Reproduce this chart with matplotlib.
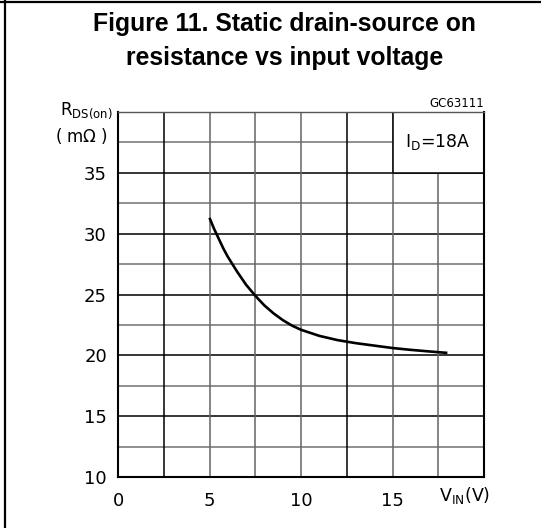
import matplotlib.pyplot as plt
from matplotlib import font_manager
from matplotlib.lines import Line2D
from matplotlib.patches import Rectangle

# DATA ------------------------------------------------------------------------

# curve, I_D = 18 A
v_in = [5.0, 5.25, 5.5, 5.75, 6.0, 6.5, 7.0, 7.5, 8.0, 8.5, 9.0, 9.5, 10.0,
        11.0, 12.0, 13.0, 14.0, 15.0, 16.0, 17.0, 18.0]
r_ds_on = [31.3, 30.4, 29.6, 28.8, 28.1, 26.9, 25.8, 24.9, 24.1, 23.45, 22.9, 22.45, 22.1,
           21.6, 21.25, 21.0, 20.8, 20.6, 20.45, 20.32, 20.2]

x_ticks = [0, 5, 10, 15]
y_ticks = [10, 15, 20, 25, 30, 35]
x_grid = [2.5, 5, 7.5, 10, 12.5, 15, 17.5]
y_grid = [12.5, 15, 17.5, 20, 22.5, 25, 27.5, 30, 32.5, 35, 37.5]

W, H = 541, 528

# helper: pixel position -> figure fraction
def px( x, y ):
    return x / W, 1.0 - y / H

# pick the regular-width Liberation Sans Bold file (not the Narrow one)
title_fp = None
for f in font_manager.fontManager.ttflist:
    if f.name == "Liberation Sans" and f.weight in ( 700, "bold" ) and f.style == "normal" \
            and "Narrow" not in f.fname:
        title_fp = font_manager.FontProperties( fname=f.fname, size=17.8 )
        break
if title_fp is None:
    title_fp = font_manager.FontProperties( family="DejaVu Sans", weight="bold", size=16 )

# FIGURE ----------------------------------------------------------------------

fig = plt.figure( figsize=( W / 100, H / 100 ), dpi=100 )
ax = fig.add_axes( [118 / W, 51 / H, 366 / W, 365 / H] )

ax.set_xlim( 0, 20 )
ax.set_ylim( 10, 40 )

# grid: multiples of 5 in black, the 2.5 steps a bit lighter
for y in y_grid:
    c = "black" if y % 5 == 0 else "#707070"
    ax.axhline( y, color=c, lw=1.1, zorder=1 )
for x in x_grid:
    c = "black" if x in ( 2.5, 12.5 ) else "#656565"
    ax.axvline( x, color=c, lw=1.1, zorder=1 )

# white box holding the test condition in the top right cell
ax.add_patch( Rectangle( ( 15, 35 ), 5, 5, facecolor="white", edgecolor="black", lw=1.1, zorder=2 ) )
ax.text( 17.5, 37.5, r"I$_{\rm D}$=18A", ha="center", va="center", fontsize=12.5, zorder=3 )

ax.plot( v_in, r_ds_on, color="black", lw=1.9, solid_capstyle="butt", zorder=4 )

ax.set_xticks( x_ticks )
ax.set_yticks( y_ticks )
ax.tick_params( length=0, labelsize=13, pad=8 )
ax.tick_params( axis="x", pad=11 )
for s in ax.spines.values():
    s.set_linewidth( 1.5 )
    s.set_zorder( 5 )
ax.spines["top"].set_linewidth( 1.0 )
ax.spines["top"].set_color( "#555555" )

# labels -----------------------------------------------------------------------

fx, fy = px( 284.5, 31.5 )
fig.text( fx, fy, "Figure 11. Static drain-source on", ha="center", va="baseline", fontproperties=title_fp )
fx, fy = px( 284.5, 64.5 )
fig.text( fx, fy, "resistance vs input voltage", ha="center", va="baseline", fontproperties=title_fp )

fx, fy = px( 484, 107 )
fig.text( fx, fy, "GC63111", ha="right", va="baseline", fontsize=8.5 )

fx, fy = px( 113, 115 )
fig.text( fx, fy, r"R$_{\rm DS(on)}$", ha="right", va="baseline", fontsize=12 )
fx, fy = px( 82, 136 )
fig.text( fx, fy, r"( m$\Omega$ )", ha="center", va="center", fontsize=12 )

fx, fy = px( 465, 496 )
fig.text( fx, fy, r"V$_{\rm IN}$(V)", ha="center", va="center", fontsize=12.5 )

# page frame (top and left edge only)
fig.add_artist( Line2D( [0, 1], [1 - 1.5 / H, 1 - 1.5 / H], color="black", lw=1.6 ) )
fig.add_artist( Line2D( [5 / W, 5 / W], [0, 1], color="black", lw=1.6 ) )

plt.savefig( "out.png", dpi=100 )
